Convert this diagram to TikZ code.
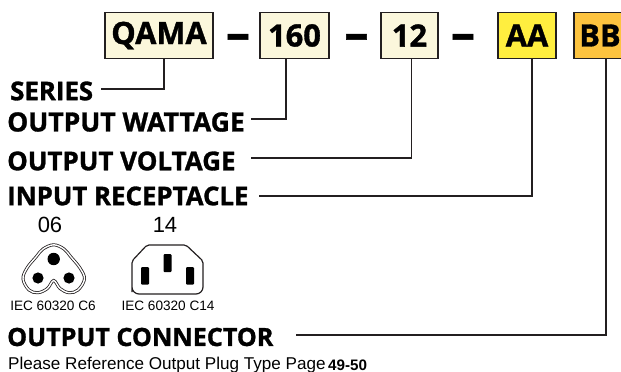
\documentclass[tikz,border=0pt]{standalone}
\usepackage{fontspec}
\setmainfont{Liberation Sans}
\newfontfamily\headfont{Open Sans}[BoldFeatures={FakeBold=1.2}]
\usepackage{xcolor}
\definecolor{BoxCream}{HTML}{FBF7DC}
\definecolor{BoxYellow}{HTML}{FFEE3F}
\definecolor{BoxOrange}{HTML}{FDC33F}
\definecolor{LineDark}{HTML}{231F20}
\tikzset{
	codebox/.style={draw=LineDark,line width=1.5pt,minimum height=46pt,inner sep=0pt,font=\headfont\fontsize{30.8}{31}\selectfont\bfseries},
	fieldlabel/.style={anchor=west,inner sep=0pt,font=\headfont\fontsize{#1}{27}\selectfont\bfseries},
	sepdash/.style={inner sep=0pt,font=\headfont\fontsize{48}{48}\selectfont\bfseries},
	leadline/.style={draw=LineDark,line width=1.2pt},
	smalltext/.style={inner sep=0pt,font=\fontsize{13.6}{14}\selectfont},
}
\begin{document}
\begin{tikzpicture}[x=1pt,y=-1pt]
	\clip (0,0) rectangle (621,372);
	\useasboundingbox (0,0) rectangle (621,372);
	% code boxes
	\node[codebox,fill=BoxCream,minimum width=108pt] (qama) at (159,35.5) {QAMA};
	\node[codebox,fill=BoxCream,minimum width=69pt] (wattbox) at (294.5,35.5) {160};
	\node[codebox,fill=BoxCream,minimum width=57pt] (voltbox) at (409.5,35.5) {12};
	\node[codebox,fill=BoxYellow,minimum width=58pt] (aabox) at (527,35.5) {AA};
	\node[codebox,fill=BoxOrange,minimum width=52pt] (bbbox) at (600,35.5) {BB};
	% dashes
	\node[sepdash] (dasha) at (238,42) {–};
	\node[sepdash] (dashb) at (356.5,42) {–};
	\node[sepdash] (dashc) at (463,42) {–};
	% labels
	\node[fieldlabel=25.8] (series) at (10,91) {SERIES};
	\node[fieldlabel=26.5] (watt) at (7,122) {OUTPUT WATTAGE};
	\node[fieldlabel=25.95] (volt) at (7,161) {OUTPUT VOLTAGE};
	\node[fieldlabel=25.8] (input) at (7,196) {INPUT RECEPTACLE};
	\node[fieldlabel=25.1] (conn) at (7,337) {OUTPUT CONNECTOR};
	% free ends of the leads
	\coordinate (seriesend) at (101,89);
	\coordinate (wattend) at (251,119);
	\coordinate (voltend) at (251,158);
	\coordinate (inputend) at (259,196);
	\coordinate (connend) at (296,335);
	\draw[leadline] (seriesend) -| ([xshift=5pt]qama.south);
	\draw[leadline] (wattend) -| ([xshift=-8.5pt]wattbox.south);
	\draw[leadline] (voltend) -| ([xshift=2.2pt]voltbox.south);
	\draw[leadline] (inputend) -| ([xshift=5pt]aabox.south);
	\draw[leadline] (connend) -| ([xshift=6pt]bbbox.south);
	% receptacle 06
	\node[inner sep=0pt,font=\fontsize{22}{22}\selectfont] (typea) at (50,225) {06};
	\draw[line width=0.8pt,double=white,double distance=1.4pt,LineDark] plot[smooth cycle,tension=0.6] coordinates {
		(53.7,244.8) (64,249) (71,257) (80,268) (84.5,279) (78,290) (69,292.7) (60,288.5) (53.7,280.5)
		(47.4,288.5) (38,292.7) (29,290) (23,279) (27,268) (36,257) (43,249)};
	\fill[black] (53.7,259) circle (6.2pt);
	\fill[black] (38,278) circle (5.6pt);
	\fill[black] (69,278) circle (5.6pt);
	\node[smalltext] (typealabel) at (53,306) {IEC 60320 C6};
	% receptacle 14
	\node[inner sep=0pt,font=\fontsize{22}{22}\selectfont] (typeb) at (165,225) {14};
	\draw[line width=1.2pt,LineDark,rounded corners=2pt] (147,245) -- (186,245) -- (203,261) -- (203,285)
		[rounded corners=7pt] -- (203,294) -- (132,294) -- (132,285)
		[rounded corners=2pt] -- (132,261) -- cycle;
	\fill[black,rounded corners=1pt] (163.5,254) rectangle (171.5,272);
	\fill[black,rounded corners=1pt] (141,267) rectangle (149,284.5);
	\fill[black,rounded corners=1pt] (186,267) rectangle (194,284.5);
	\node[smalltext] (typeblabel) at (168,306) {IEC 60320 C14};
	% footer
	\node[anchor=west,inner sep=0pt,font=\fontsize{17.1}{18}\selectfont] (footer) at (8,365) {Please Reference Output Plug Type Page};
	\node[anchor=west,inner sep=0pt,font=\fontsize{15.2}{16}\selectfont\bfseries] (pages) at (328,365) {49-50};
\end{tikzpicture}
\end{document}
